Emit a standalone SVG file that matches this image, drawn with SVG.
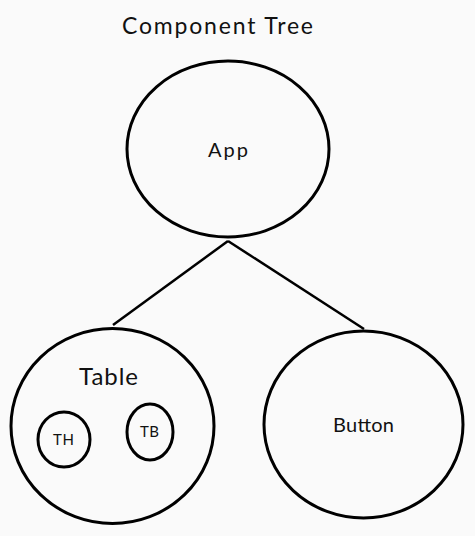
<svg xmlns="http://www.w3.org/2000/svg" width="475" height="536" viewBox="0 0 475 536">
<style>
.n{fill:none;stroke:#000;stroke-width:3}
.e{stroke:#000;stroke-width:2.5;fill:none}
text{font-family:Lato,"Noto Sans",sans-serif;fill:#111;text-anchor:middle}
</style>
<rect width="475" height="536" fill="#fafafa"/>
<text x="217.5" y="34" font-size="23" textLength="191">Component Tree</text>
<g id="connectors">
<line class="e" x1="228" y1="241" x2="113" y2="325"/>
<line class="e" x1="228" y1="241" x2="364" y2="329"/>
</g>
<g id="app">
<ellipse class="n" cx="228" cy="149" rx="101" ry="88"/>
<text x="228" y="157" font-size="20" textLength="40">App</text>
</g>
<g id="table">
<ellipse class="n" cx="112.5" cy="426" rx="101.5" ry="97.5"/>
<text x="108.5" y="385" font-size="24" textLength="59">Table</text>
</g>
<g id="th">
<ellipse class="n" cx="64" cy="439.5" rx="26" ry="27.5"/>
<text x="63.5" y="445" font-size="15" textLength="21">TH</text>
</g>
<g id="tb">
<ellipse class="n" cx="150" cy="432" rx="23" ry="28"/>
<text x="149.5" y="437" font-size="15" textLength="19">TB</text>
</g>
<g id="button">
<ellipse class="n" cx="363.5" cy="424.5" rx="99.5" ry="93.5"/>
<text x="363.5" y="432" font-size="20" textLength="61">Button</text>
</g>
</svg>
